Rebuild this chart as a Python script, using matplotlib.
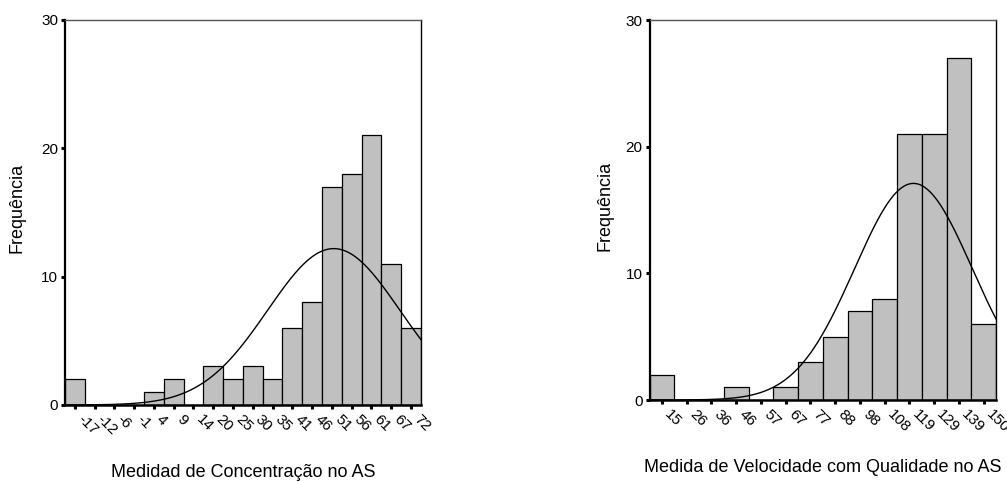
import numpy as np
import matplotlib
matplotlib.use("Agg")
import matplotlib.pyplot as plt
import matplotlib.transforms as mtransforms

plt.rcParams['font.family'] = ['Liberation Sans', 'DejaVu Sans']

# Left histogram: Medidad de Concentração no AS
conc_labels = ["-17", "-12", "-6", "-1", "4", "9", "14", "20", "25", "30",
               "35", "41", "46", "51", "56", "61", "67", "72"]
conc_counts = [2, 0, 0, 0, 1, 2, 0, 3, 2, 3, 2, 6, 8, 17, 18, 21, 11, 6]
conc_first, conc_width = -17.0, 5.24      # first bin centre, bin width
conc_mean, conc_sd = 51.6, 17.5           # fitted normal curve

# Right histogram: Medida de Velocidade com Qualidade no AS
vel_labels = ["15", "26", "36", "46", "57", "67", "77", "88", "98", "108",
              "119", "129", "139", "150"]
vel_counts = [2, 0, 0, 1, 0, 1, 3, 5, 7, 8, 21, 21, 27, 6]
vel_first, vel_width = 15.0, 10.38
vel_mean, vel_sd = 120.5, 24.7

y_ticks = [0, 10, 20, 30]

fig = plt.figure(figsize=(10.07, 4.82), dpi=100)
ax1 = fig.add_axes([0.0645, 0.1598, 0.3535, 0.7988])
ax2 = fig.add_axes([0.645, 0.1701, 0.3441, 0.7884])


def draw_hist(ax, labels, counts, first, width, mean, sd, xlabel):
    centers = first + width * np.arange(len(counts))
    ax.bar(centers, counts, width=width, color='#c0c0c0', edgecolor='black',
           linewidth=0.9, zorder=2)
    lo, hi = centers[0] - width / 2, centers[-1] + width / 2
    xs = np.linspace(lo, hi, 400)
    scale = sum(counts) * width / (sd * np.sqrt(2 * np.pi))
    ax.plot(xs, scale * np.exp(-0.5 * ((xs - mean) / sd) ** 2),
            color='black', linewidth=1.0, zorder=3)
    ax.set_xlim(lo, hi)
    ax.set_ylim(0, 30)
    ax.set_yticks(y_ticks)
    ax.set_xticks(centers)
    ax.set_xticklabels(labels, rotation=-45, ha='left', va='top')
    offset = mtransforms.ScaledTranslation(4 / 100, 0, fig.dpi_scale_trans)
    for lab in ax.get_xticklabels():
        lab.set_transform(lab.get_transform() + offset)
    ax.tick_params(axis='both', direction='out', length=3, width=2.2,
                   labelsize=11, pad=2)
    ax.spines['left'].set_linewidth(1.6)
    ax.spines['bottom'].set_linewidth(1.8)
    ax.spines['top'].set_linewidth(1.0)
    ax.spines['top'].set_color('#555555')
    ax.spines['right'].set_linewidth(1.0)
    ax.set_ylabel("Frequência", fontsize=13)
    ax.set_xlabel(xlabel, fontsize=13)


draw_hist(ax1, conc_labels, conc_counts, conc_first, conc_width,
          conc_mean, conc_sd, "Medidad de Concentração no AS")
draw_hist(ax2, vel_labels, vel_counts, vel_first, vel_width,
          vel_mean, vel_sd, "Medida de Velocidade com Qualidade no AS")

# label placement to match the reference
ax1.yaxis.set_label_coords(-0.112, 0.512)
ax1.xaxis.set_label_coords(0.5, -0.153)
ax2.yaxis.set_label_coords(-0.1025, 0.51)
ax2.xaxis.set_label_coords(0.5007, -0.155)

fig.savefig("out.png", dpi=100)
